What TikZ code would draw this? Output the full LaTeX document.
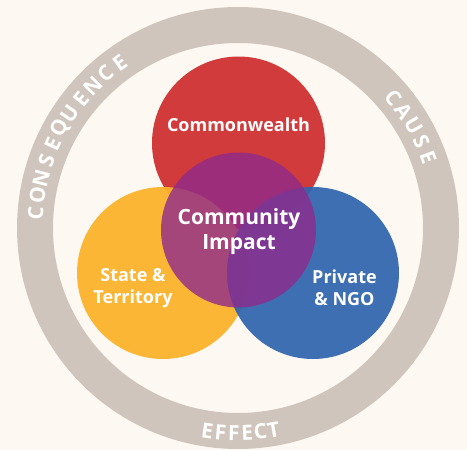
\documentclass[tikz,border=0pt]{standalone}
\usepackage{fontspec}
\setmainfont{Open Sans}
\usetikzlibrary{calc}
\definecolor{bgc}{HTML}{FDF8F1}
\definecolor{ringc}{HTML}{CFC5BC}
\definecolor{redc}{HTML}{D13B3B}
\definecolor{orangec}{HTML}{FBB32C}
\definecolor{bluec}{HTML}{2F65AE}
\definecolor{purplec}{HTML}{8F2A8C}
\begin{document}
\begin{tikzpicture}[x=1pt,y=-1pt,
  disc/.style={circle, inner sep=0pt, minimum size=#1},
  lab/.style={text=white, font=\bfseries\fontsize{18}{22}\selectfont, align=center, inner sep=0pt},
  biglab/.style={text=white, font=\bfseries\fontsize{21}{25}\selectfont, align=center, inner sep=0pt},
  ringlet/.style={text=white, font=\bfseries\fontsize{21}{21}\selectfont, inner sep=0pt}]
\useasboundingbox (0,0) rectangle (467,450);
\fill[bgc] (0,0) rectangle (467,450);
\coordinate (C) at (238,228);
\draw[ringc, line width=36pt] (C) circle[radius=203pt];
\node[disc=173pt, fill=redc] (red) at (238.5,143) {};
\node[disc=172pt, fill=orangec, fill opacity=0.95] (orange) at (163,273) {};
\node[disc=172pt, fill=bluec, fill opacity=0.93] (blue) at (313,273) {};
\node[disc=155pt, fill=purplec, fill opacity=0.8] (purple) at (238.5,230) {};
\node[lab] (tc) at (238.5,125) {Commonwealth};
\node[biglab] (ti) at (239,232) {Community\\Impact};
\node[lab] (ts) at (133,288) {State \&\\Territory};
\node[lab] (tp) at (344.5,288) {Private\\\& NGO};
\foreach \ch [count=\i] in {C,O,N,S,E,Q,U,E,N,C,E} {
  \pgfmathsetmacro\ang{175.8-(\i-1)*5.02}
  \node[ringlet, rotate=\ang-90] (cq\i) at ($(C)+(\ang:203pt)$) {\ch};
}
\foreach \ch [count=\i] in {C,A,U,S,E} {
  \pgfmathsetmacro\ang{40-(\i-1)*4.9}
  \node[ringlet, rotate=\ang-90] (ca\i) at ($(C)+(\ang:203pt)$) {\ch};
}
\foreach \ch [count=\i] in {E,F,F,E,C,T} {
  \pgfmathsetmacro\ang{261.4+(\i-1)*3.72}
  \node[ringlet, rotate=\ang+90] (ef\i) at ($(C)+(\ang:205pt)$) {\ch};
}
\end{tikzpicture}
\end{document}
